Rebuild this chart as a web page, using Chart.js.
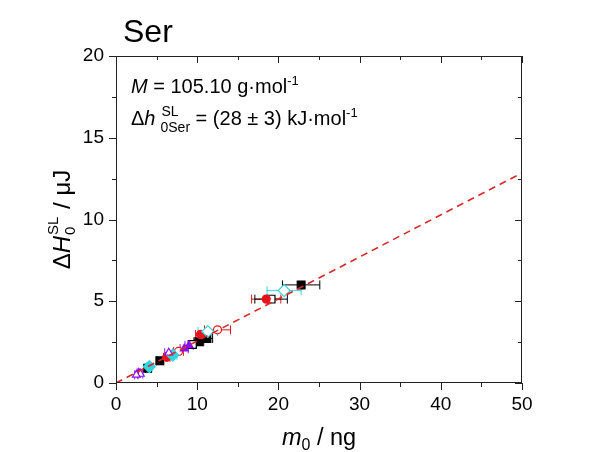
<!DOCTYPE html>
<html>
<head>
<meta charset="utf-8">
<script src="https://cdn.jsdelivr.net/npm/chart.js@4/dist/chart.umd.min.js"></script>
<style>
  body { margin: 0; background: #fff; }
  #wrap { width: 600px; height: 452px; }
</style>
</head>
<body>
<div id="wrap"><canvas id="chart" width="600" height="452"></canvas></div>
<script>
// x ticks / y ticks
const xTicks = [0, 10, 20, 30, 40, 50];
const yTicks = [0, 5, 10, 15, 20];

// fitted line (slope from M and dh)
const fitX = [0, 50];
const fitY = [0, 12.85];

const blackFilledX = [22.8, 11.2, 10.2, 5.4, 3.9];
const blackFilledY = [6.0, 2.72, 2.52, 1.36, 0.9];
const blackFilledErr = [2.3, 0.7, 0.6, 0.4, 0.3];

const blackOpenX = [19.1, 9.4];
const blackOpenY = [5.13, 2.35];
const blackOpenErr = [2.0, 0.5];

const redFilledX = [18.5, 10.4, 6.25];
const redFilledY = [5.13, 2.97, 1.57];
const redFilledErr = [1.8, 0.6, 0.4];

const redOpenX = [12.5, 7.7];
const redOpenY = [3.25, 1.93];
const redOpenErr = [1.6, 0.6];

const cyanFilledX = [7.0, 4.1];
const cyanFilledY = [1.7, 1.0];
const cyanFilledErr = [0.5, 0.3];

const cyanOpenX = [20.7, 11.3];
const cyanOpenY = [5.65, 3.15];
const cyanOpenErr = [2.1, 1.2];

const purpleFilledX = [9.0, 8.4, 2.8];
const purpleFilledY = [2.3, 2.1, 0.62];
const purpleFilledErr = [0.5, 0.5, 0.2];

const purpleOpenX = [6.5, 3.0, 2.5];
const purpleOpenY = [1.85, 0.55, 0.5];
const purpleOpenErr = [0.5, 0.3, 0.2];

const colors = {
    black: '#000000',
    red: '#e8141b',
    cyan: '#33d6e0',
    purple: '#8a10f0',
    fit: '#d82828',
    axis: '#222222'
};

const FONT = '"Liberation Sans", Arial, sans-serif';

// marker radius per style, so squares/diamonds come out about as big as the circles
const markerSize = { rect: 5.5, rectRot: 6, circle: 4, triangle: 4.5 };

function pts(xs, ys) {
    return xs.map((x, i) => ({ x: x, y: ys[i] }));
}

function series(xs, ys, errs, color, style, open) {
    return {
        type: 'scatter',
        data: pts(xs, ys),
        errX: errs,
        pointStyle: style,
        pointRadius: markerSize[style],
        borderWidth: 1.2,
        borderColor: color,
        backgroundColor: open ? '#ffffff' : color,
        errColor: color
    };
}

// horizontal error bars, drawn under the markers
const errorBars = {
    id: 'errorBars',
    beforeDatasetsDraw(chart) {
        const ctx = chart.ctx;
        const xs = chart.scales.x;
        chart.data.datasets.forEach((ds, di) => {
            if (!ds.errX) return;
            const meta = chart.getDatasetMeta(di);
            ctx.save();
            ctx.strokeStyle = ds.errColor;
            ctx.lineWidth = 1;
            meta.data.forEach((el, i) => {
                const v = ds.data[i];
                const x1 = xs.getPixelForValue(v.x - ds.errX[i]);
                const x2 = xs.getPixelForValue(v.x + ds.errX[i]);
                const y = el.y;
                ctx.beginPath();
                ctx.moveTo(x1, y); ctx.lineTo(x2, y);
                ctx.moveTo(x1, y - 4.5); ctx.lineTo(x1, y + 4.5);
                ctx.moveTo(x2, y - 4.5); ctx.lineTo(x2, y + 4.5);
                ctx.stroke();
            });
            ctx.restore();
        });
    }
};

// box + major/minor ticks (outside on bottom/left, inside on top/right)
const frame = {
    id: 'frame',
    afterDraw(chart) {
        const ctx = chart.ctx;
        const a = chart.chartArea;
        const xs = chart.scales.x, ys = chart.scales.y;
        ctx.save();
        ctx.strokeStyle = colors.axis;
        ctx.lineWidth = 1;
        ctx.strokeRect(a.left + 0.5, a.top + 0.5, a.right - a.left - 1, a.bottom - a.top - 1);
        ctx.beginPath();
        for (let v = 0; v <= 50; v += 5) {
            const px = Math.round(xs.getPixelForValue(v)) + 0.5;
            const len = v % 10 === 0 ? 7 : 4;
            ctx.moveTo(px, a.bottom); ctx.lineTo(px, a.bottom + len);
            ctx.moveTo(px, a.top); ctx.lineTo(px, a.top + len);
        }
        for (let v = 0; v <= 20; v += 2.5) {
            const py = Math.round(ys.getPixelForValue(v)) + 0.5;
            const len = v % 5 === 0 ? 7 : 4;
            ctx.moveTo(a.left, py); ctx.lineTo(a.left - len, py);
            ctx.moveTo(a.right, py); ctx.lineTo(a.right - len, py);
        }
        ctx.stroke();
        ctx.restore();
    }
};

// draws a row of text runs: {t, size, italic, dy}
function runs(ctx, list, x, y, measureOnly) {
    let cx = x;
    list.forEach(r => {
        ctx.font = (r.italic ? 'italic ' : '') + r.size + 'px ' + FONT;
        const w = ctx.measureText(r.t).width;
        if (!measureOnly) ctx.fillText(r.t, cx, y + (r.dy || 0));
        cx += w;
    });
    return cx - x;
}

const labels = {
    id: 'labels',
    afterDraw(chart) {
        const ctx = chart.ctx;
        const a = chart.chartArea;
        ctx.save();
        ctx.fillStyle = '#000';
        ctx.textAlign = 'left';
        ctx.textBaseline = 'alphabetic';

        // title
        ctx.font = '32px ' + FONT;
        ctx.fillText('Ser', 123, 42);

        // annotations
        runs(ctx, [
            { t: 'M', size: 20, italic: true },
            { t: ' = 105.10 g\u00b7mol', size: 20 },
            { t: '-1', size: 13, dy: -8 }
        ], 131, 93);

        let x0 = 131;
        x0 += runs(ctx, [{ t: '\u0394', size: 20 }, { t: 'h', size: 20, italic: true }], x0, 125);
        x0 += 5;
        ctx.font = '14px ' + FONT;
        ctx.fillText('SL', x0 + 1, 116);
        ctx.fillText('0Ser', x0, 132);
        x0 += ctx.measureText('0Ser').width;
        runs(ctx, [
            { t: ' = (28 \u00b1 3) kJ\u00b7mol', size: 20 },
            { t: '-1', size: 13, dy: -8 }
        ], x0, 125);

        // x title
        const xt = [
            { t: 'm', size: 23.5, italic: true },
            { t: '0', size: 16, dy: 5 },
            { t: ' / ng', size: 23.5 }
        ];
        const xw = runs(ctx, xt, 0, 0, true);
        runs(ctx, xt, (a.left + a.right) / 2 - xw / 2, 445);

        // y title (rotated)
        ctx.translate(70, (a.top + a.bottom) / 2);
        ctx.rotate(-Math.PI / 2);
        const main = [{ t: '\u0394', size: 24 }, { t: 'H', size: 24, italic: true }];
        const tail = [{ t: ' / \u03bcJ', size: 24 }];
        const w1 = runs(ctx, main, 0, 0, true);
        ctx.font = '15px ' + FONT;
        const ws = ctx.measureText('SL').width + 2;
        const w2 = runs(ctx, tail, 0, 0, true);
        let sx = -(w1 + ws + w2) / 2;
        sx += runs(ctx, main, sx, 0);
        ctx.font = '15px ' + FONT;
        ctx.fillText('SL', sx + 1, -12);
        ctx.fillText('0', sx + 1, 5);
        sx += ws;
        runs(ctx, tail, sx, 0);
        ctx.restore();
    }
};

const chart = new Chart(document.getElementById('chart'), {
    type: 'scatter',
    data: {
        datasets: [
            {
                type: 'line',
                data: pts(fitX, fitY),
                borderColor: colors.fit,
                borderWidth: 1.6,
                borderDash: [7, 5],
                pointRadius: 0,
                fill: false
            },
            series(purpleOpenX, purpleOpenY, purpleOpenErr, colors.purple, 'triangle', true),
            series(purpleFilledX, purpleFilledY, purpleFilledErr, colors.purple, 'triangle', false),
            series(cyanOpenX, cyanOpenY, cyanOpenErr, colors.cyan, 'rectRot', true),
            series(cyanFilledX, cyanFilledY, cyanFilledErr, colors.cyan, 'rectRot', false),
            series(redOpenX, redOpenY, redOpenErr, colors.red, 'circle', true),
            series(redFilledX, redFilledY, redFilledErr, colors.red, 'circle', false),
            series(blackOpenX, blackOpenY, blackOpenErr, colors.black, 'rect', true),
            series(blackFilledX, blackFilledY, blackFilledErr, colors.black, 'rect', false)
        ]
    },
    options: {
        responsive: false,
        animation: false,
        layout: { padding: { left: 0, top: 56, right: 78, bottom: 0 } },
        plugins: {
            legend: { display: false },
            tooltip: { enabled: false }
        },
        scales: {
            x: {
                type: 'linear',
                min: 0,
                max: 50,
                afterBuildTicks: s => { s.ticks = xTicks.map(v => ({ value: v })); },
                afterFit: s => { s.height = 69; },
                grid: { display: false, drawTicks: false },
                border: { display: false },
                ticks: { padding: 10, color: '#000', font: { family: FONT, size: 19 } }
            },
            y: {
                type: 'linear',
                min: 0,
                max: 20,
                afterBuildTicks: s => { s.ticks = yTicks.map(v => ({ value: v })); },
                afterFit: s => { s.width = 116; },
                grid: { display: false, drawTicks: false },
                border: { display: false },
                ticks: { padding: 12, color: '#000', font: { family: FONT, size: 19 } }
            }
        }
    },
    plugins: [errorBars, frame, labels]
});
</script>
</body>
</html>
